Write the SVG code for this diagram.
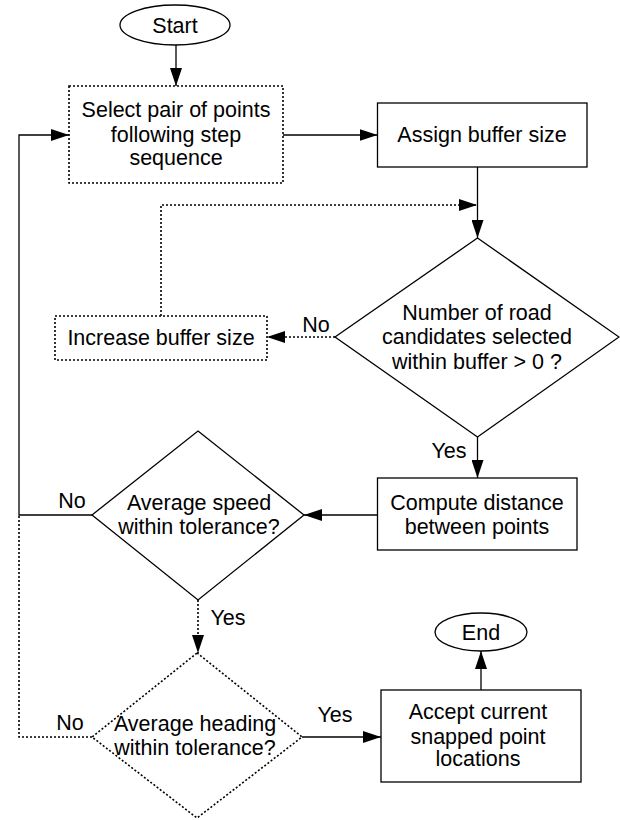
<svg xmlns="http://www.w3.org/2000/svg" width="620" height="820" viewBox="0 0 620 820">
<style>
.s{fill:#fff;stroke:#000;stroke-width:1.3}
.d{fill:#fff;stroke:#000;stroke-width:1.6;stroke-dasharray:2 2}
.c{fill:none;stroke:#000;stroke-width:1.3}
.cd{fill:none;stroke:#000;stroke-width:1.6;stroke-dasharray:2 2}
text{font-family:"Liberation Sans",Arial,sans-serif;font-size:21.5px;fill:#000;text-anchor:middle}
</style>
<defs>
<marker id="ah" markerUnits="userSpaceOnUse" markerWidth="18" markerHeight="12" refX="18" refY="6" orient="auto">
<path d="M0,0 L18,6 L0,12 z" fill="#000"/>
</marker>
</defs>
<rect width="620" height="820" fill="#fff"/>
<g id="connectors">
<line class="c" x1="176" y1="45" x2="176" y2="86" marker-end="url(#ah)"/>
<polyline class="c" points="92,515 19,515 19,135 69,135" marker-end="url(#ah)"/>
<line class="c" x1="283" y1="135" x2="377.5" y2="135" marker-end="url(#ah)"/>
<line class="c" x1="477.5" y1="167" x2="477.5" y2="238" marker-end="url(#ah)"/>
<polyline class="cd" points="161,316 161,205 477,205" marker-end="url(#ah)"/>
<line class="cd" x1="335" y1="337" x2="267" y2="337" marker-end="url(#ah)"/>
<line class="c" x1="477.5" y1="437" x2="477.5" y2="478" marker-end="url(#ah)"/>
<line class="c" x1="377.5" y1="515" x2="304" y2="515" marker-end="url(#ah)"/>
<line class="cd" x1="198" y1="600" x2="198" y2="653" marker-end="url(#ah)"/>
<polyline class="cd" points="92,737 19,737 19,516"/>
<line class="c" x1="302" y1="737" x2="381" y2="737" marker-end="url(#ah)"/>
<line class="c" x1="481" y1="690" x2="481" y2="651" marker-end="url(#ah)"/>
<text x="316" y="332">No</text>
<text x="449" y="458">Yes</text>
<text x="72" y="508">No</text>
<text x="228" y="625">Yes</text>
<text x="70" y="730">No</text>
<text x="335" y="722">Yes</text>
</g>
<g id="start">
<ellipse class="s" cx="175" cy="25" rx="55" ry="20"/>
<text x="175" y="33">Start</text>
</g>
<g id="select">
<rect class="d" x="69" y="86" width="214" height="97"/>
<text x="176" y="117">Select pair of points</text>
<text x="176" y="142">following step</text>
<text x="176" y="165">sequence</text>
</g>
<g id="assign">
<rect class="s" x="377.5" y="103" width="209.5" height="64"/>
<text x="482" y="142">Assign buffer size</text>
</g>
<g id="candidates">
<polygon class="s" points="477.5,238 619,337 477.5,437 335,337"/>
<text x="477" y="320">Number of road</text>
<text x="477" y="344">candidates selected</text>
<text x="477" y="369">within buffer &gt; 0 ?</text>
</g>
<g id="increase">
<rect class="d" x="55" y="316" width="212" height="44"/>
<text x="161" y="345">Increase buffer size</text>
</g>
<g id="compute">
<rect class="s" x="377.5" y="478" width="199.5" height="72"/>
<text x="477" y="510">Compute distance</text>
<text x="477" y="534">between points</text>
</g>
<g id="speed">
<polygon class="s" points="198,431 304,515 198,600 92,515"/>
<text x="199" y="510">Average speed</text>
<text x="199" y="534">within tolerance?</text>
</g>
<g id="heading">
<polygon class="d" points="197,653 302,737 197,818 92,737"/>
<text x="195" y="731">Average heading</text>
<text x="195" y="755">within tolerance?</text>
</g>
<g id="accept">
<rect class="s" x="381" y="690" width="200" height="92"/>
<text x="478" y="719">Accept current</text>
<text x="478" y="744">snapped point</text>
<text x="478" y="766">locations</text>
</g>
<g id="end">
<ellipse class="s" cx="481" cy="632" rx="46" ry="19"/>
<text x="481" y="640">End</text>
</g>
</svg>
